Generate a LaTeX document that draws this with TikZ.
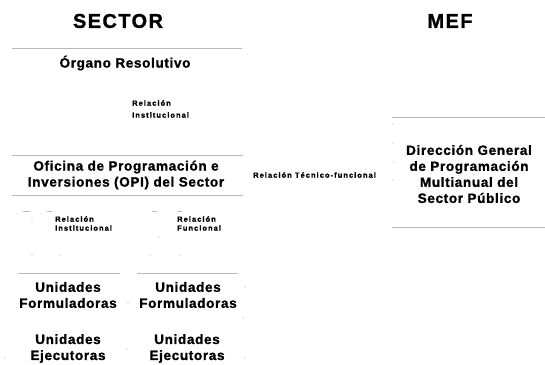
\documentclass[tikz,border=0pt]{standalone}
\usepackage{fontspec}
\newfontfamily\mainf[LetterSpace=5,FakeBold=1.2]{Liberation Sans}
\newfontfamily\headf[LetterSpace=7,FakeBold=1.2]{Liberation Sans}
\newfontfamily\tinyf[LetterSpace=14,FakeBold=1]{Liberation Sans}
\begin{document}
\begin{tikzpicture}[x=1pt,y=-1pt,
  lbl/.style={font=\mainf\bfseries\fontsize{13.5}{16}\selectfont, align=center, inner sep=0pt},
  head/.style={font=\headf\bfseries\fontsize{20}{22}\selectfont, inner sep=0pt},
  tiny/.style={font=\tinyf\bfseries\fontsize{7.5}{9}\selectfont, anchor=west, inner sep=0pt},
  edgeline/.style={gray!55, line width=0.5pt},
  speck/.style={gray!55, line width=0.6pt}]
\useasboundingbox (0,0) rectangle (545,364);
% headings
\node[head] (sector) at (118,21) {SECTOR};
\node[head] (mef) at (450,21) {MEF};
% Organo resolutivo
\coordinate (o1) at (12,48); \coordinate (o2) at (242,48);
\draw[edgeline] (o1) -- (o2);
\node[lbl] (organo) at (125,63) {Órgano Resolutivo};
\node[tiny] (ri1) at (132,103) {Relación};
\node[tiny] (ri2) at (132,115) {Institucional};
% OPI
\coordinate (p1) at (12,155); \coordinate (p2) at (243,155);
\coordinate (p3) at (12,195); \coordinate (p4) at (243,195);
\draw[edgeline] (p1) -- (p2);
\draw[edgeline] (p3) -- (p4);
\node[lbl] (opi) at (126,175) {Oficina de Programación e\\Inversiones (OPI) del Sector};
\node[tiny] (rtf) at (253,175) {Relación Técnico-funcional};
% specks below OPI
\draw[speck] (23,211) -- (30,211);
\draw[speck] (47,211) -- (52,211);
\draw[speck] (152,211) -- (157,211);
\draw[speck] (177,211) -- (182,211);
\node[tiny] (rl1) at (55,219) {Relación};
\node[tiny] (rl2) at (55,228) {Institucional};
\node[tiny] (rr1) at (177,219) {Relación};
\node[tiny] (rr2) at (177,228) {Funcional};
\fill[gray!60] (32,219) circle (0.6);
\fill[gray!60] (159,237) circle (0.6);
\fill[gray!60] (32,255) circle (0.6);
\fill[gray!60] (60,255) circle (0.6);
\fill[gray!60] (150,255) circle (0.6);
\fill[gray!60] (180,255) circle (0.6);
% Unidades
\coordinate (u1) at (18,273); \coordinate (u2) at (120,273);
\coordinate (u3) at (137,273); \coordinate (u4) at (238,273);
\draw[edgeline] (u1) -- (u2);
\draw[edgeline] (u3) -- (u4);
\node[lbl] (uf1) at (68,295) {Unidades\\Formuladoras};
\node[lbl] (uf2) at (188,295) {Unidades\\Formuladoras};
\node[lbl] (ue1) at (68,348.5) {Unidades\\Ejecutoras};
\node[lbl] (ue2) at (187,348.5) {Unidades\\Ejecutoras};
\fill[gray!60] (245,287) circle (0.6);
\fill[gray!60] (243,318) circle (0.6);
\fill[gray!60] (127,349) circle (0.6);
\fill[gray!60] (128,303) circle (0.6);
\fill[gray!60] (245,358) circle (0.6);
\fill[gray!60] (5,358) circle (0.6);
% MEF box
\coordinate (m1) at (392,117); \coordinate (m2) at (545,117);
\coordinate (m3) at (392,227); \coordinate (m4) at (545,227);
\draw[edgeline] (m1) -- (m2);
\draw[edgeline] (m3) -- (m4);
\node[lbl] (dg) at (469,174) {Dirección General\\de Programación\\Multianual del\\Sector Público};
\fill[gray!60] (393,124) circle (0.6);
\fill[gray!60] (393,143) circle (0.6);
\fill[gray!60] (394,162) circle (0.6);
\fill[gray!60] (393,180) circle (0.6);
\end{tikzpicture}
\end{document}
